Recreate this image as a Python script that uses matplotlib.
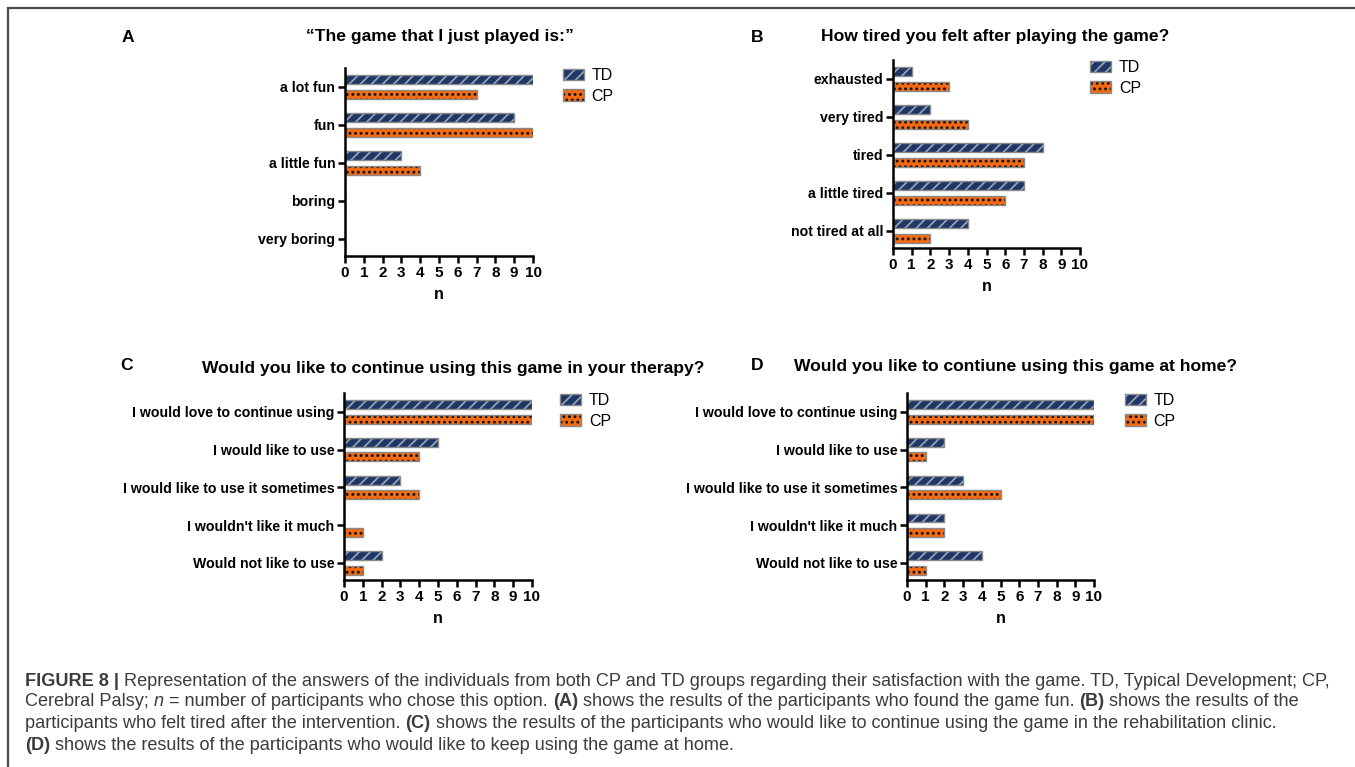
import matplotlib
matplotlib.use("Agg")
import matplotlib.pyplot as plt
from matplotlib.patches import Patch
from matplotlib.legend_handler import HandlerTuple
import numpy as np

plt.rcParams['font.family'] = ['Liberation Sans', 'DejaVu Sans']
plt.rcParams['hatch.linewidth'] = 1.3

# ---- data -------------------------------------------------------------
groups = ["TD", "CP"]

fun_labels = ["a lot fun", "fun", "a little fun", "boring", "very boring"]
fun_td = [10, 9, 3, 0, 0]
fun_cp = [7, 10, 4, 0, 0]

tired_labels = ["exhausted", "very tired", "tired", "a little tired", "not tired at all"]
tired_td = [1, 2, 8, 7, 4]
tired_cp = [3, 4, 7, 6, 2]

use_labels = ["I would love to continue using", "I would like to use",
              "I would like to use it sometimes", "I wouldn't like it much",
              "Would not like to use"]
therapy_td = [10, 5, 3, 0, 2]
therapy_cp = [10, 4, 4, 1, 1]
home_td = [10, 2, 3, 2, 4]
home_cp = [10, 1, 5, 2, 1]

x_ticks = list(range(0, 11))

titles = ["\u201cThe game that I just played is:\u201d",
          "How tired you felt after playing the game?",
          "Would you like to continue using this game in your therapy?",
          "Would you like to contiune using this game at home?"]
letters = ["A", "B", "C", "D"]

# ---- style ------------------------------------------------------------
W, H = 1355, 767
TD_FACE = "#1d3768"
TD_HATCH = "#9a9fae"
CP_FACE = "#f26b12"
CP_HATCH = "#111111"
EDGE = "#8a8a8a"

fig = plt.figure(figsize=(W / 100, H / 100), dpi=100)


def px_axes(x0, y0, x1, y1):
    return fig.add_axes([x0 / W, 1 - y1 / H, (x1 - x0) / W, (y1 - y0) / H])


def draw_panel(box, labels, td, cp, legend_xy):
    ax = px_axes(*box)
    y = np.arange(len(labels))
    off, h = 0.19, 0.235
    ax.barh(y - off, td, height=h, color=TD_FACE, edgecolor=TD_HATCH,
            hatch="///", linewidth=0, zorder=1)
    ax.barh(y - off, td, height=h, fill=False, edgecolor=EDGE,
            linewidth=1.0, zorder=1.1)
    ax.barh(y + off, cp, height=h, color=CP_FACE, edgecolor=CP_HATCH,
            hatch="...", linewidth=0, zorder=1)
    ax.barh(y + off, cp, height=h, fill=False, edgecolor=EDGE,
            linewidth=1.0, zorder=1.1)
    ax.set_xlim(0, 10)
    ax.set_ylim(len(labels) - 0.55, -0.5)
    ax.set_yticks(y)
    ax.set_yticklabels(labels, fontsize=10.2, fontweight="bold")
    ax.set_xticks(x_ticks)
    ax.set_xticklabels([str(t) for t in x_ticks], fontsize=11, fontweight="bold")
    for s in ("top", "right"):
        ax.spines[s].set_visible(False)
    for s in ("left", "bottom"):
        ax.spines[s].set_linewidth(1.8)
    ax.tick_params(axis="both", direction="out", length=5, width=1.8, pad=2)
    ax.set_xlabel("n", fontsize=11.5, fontweight="bold", labelpad=5)

    td_h = (Patch(facecolor=TD_FACE, edgecolor=TD_HATCH, hatch="///", linewidth=0),
            Patch(fill=False, edgecolor=EDGE, linewidth=1.0))
    cp_h = (Patch(facecolor=CP_FACE, edgecolor=CP_HATCH, hatch="...", linewidth=0),
            Patch(fill=False, edgecolor=EDGE, linewidth=1.0))
    fig.legend([td_h, cp_h], groups, loc="upper left",
               bbox_to_anchor=(legend_xy[0] / W, 1 - legend_xy[1] / H),
               frameon=False, fontsize=11.5, handlelength=1.3, handleheight=0.75,
               handletextpad=0.5, labelspacing=0.35, borderpad=0, borderaxespad=0,
               handler_map={tuple: HandlerTuple(ndivide=1, pad=0)})
    return ax


draw_panel((345, 68, 533, 256), fun_labels, fun_td, fun_cp, (563, 68))
draw_panel((893, 60, 1080, 248), tired_labels, tired_td, tired_cp, (1090, 60))
draw_panel((344, 393, 532, 580), use_labels, therapy_td, therapy_cp, (560, 393))
draw_panel((907, 393, 1094, 580), use_labels, home_td, home_cp, (1125, 393))

# panel titles and letters
title_pos = [(440, 37), (995, 37), (453, 369), (1016, 366)]
letter_pos = [(128, 37), (757, 37), (127, 366), (757, 366)]
for t, (tx, ty) in zip(titles, title_pos):
    fig.text(tx / W, 1 - ty / H, t, ha="center", va="center",
             fontsize=12.6, fontweight="bold")
for l, (lx, ly) in zip(letters, letter_pos):
    fig.text(lx / W, 1 - ly / H, l, ha="center", va="center",
             fontsize=12.6, fontweight="bold")

# frame lines along top and left edge
fig.add_artist(plt.Line2D([8 / W, 1], [1 - 8 / H, 1 - 8 / H], color="#4a4a4a",
                          linewidth=1.6, transform=fig.transFigure))
fig.add_artist(plt.Line2D([8 / W, 8 / W], [0, 1 - 8 / H], color="#4a4a4a",
                          linewidth=1.6, transform=fig.transFigure))

# caption with mixed styles
CAP = "#3c3c3c"
caption = [
    [("FIGURE 8 | ", "bold", "normal"),
     ("Representation of the answers of the individuals from both CP and TD groups "
      "regarding their satisfaction with the game. TD, Typical Development; CP,",
      "normal", "normal")],
    [("Cerebral Palsy; ", "normal", "normal"), ("n", "normal", "italic"),
     (" = number of participants who chose this option. ", "normal", "normal"),
     ("(A)", "bold", "normal"),
     (" shows the results of the participants who found the game fun. ", "normal", "normal"),
     ("(B)", "bold", "normal"),
     (" shows the results of the", "normal", "normal")],
    [("participants who felt tired after the intervention. ", "normal", "normal"),
     ("(C)", "bold", "normal"),
     (" shows the results of the participants who would like to continue using "
      "the game in the rehabilitation clinic.", "normal", "normal")],
    [("(D)", "bold", "normal"),
     (" shows the results of the participants who would like to keep using the game at home.",
      "normal", "normal")],
]
line_y = [681, 702, 723, 745]
renderer = fig.canvas.get_renderer()
for runs, ly in zip(caption, line_y):
    x = 25
    for text, weight, style in runs:
        t = fig.text(x / W, 1 - ly / H, text, ha="left", va="center",
                     fontsize=13.1, fontweight=weight, fontstyle=style, color=CAP)
        bb = t.get_window_extent(renderer=renderer)
        x += bb.width

fig.savefig("out.png", dpi=100)
